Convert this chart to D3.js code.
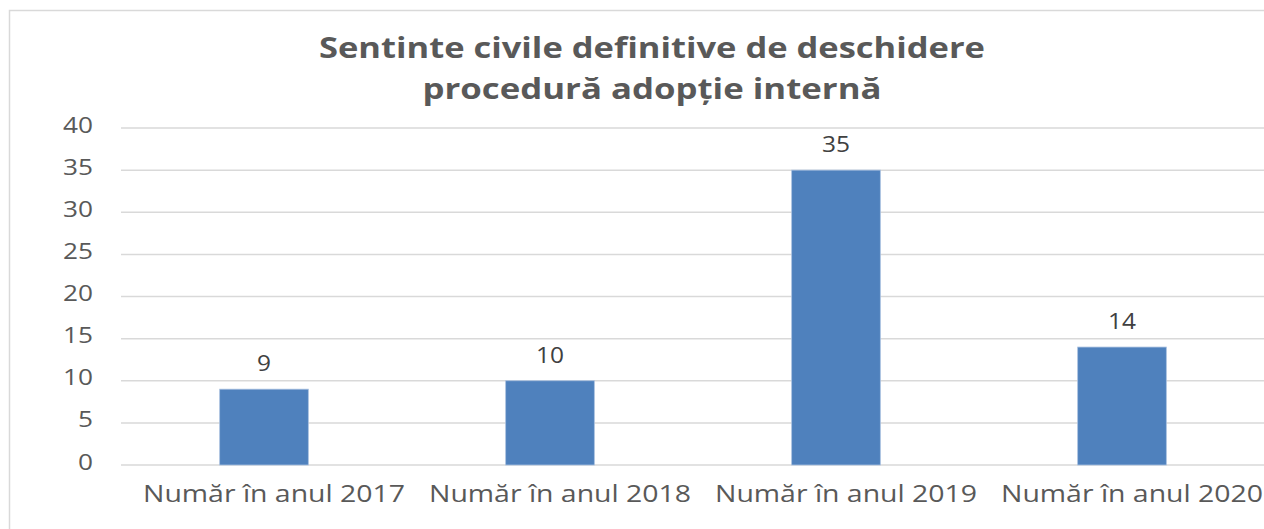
<!DOCTYPE html>
<html>
<head>
<meta charset="utf-8">
<script src="https://cdn.jsdelivr.net/npm/d3@7"></script>
<style>
  body { margin: 0; background: #fff; }
  svg { display: block; }
</style>
</head>
<body>
<div id="chart"></div>
<script>
// Chart Data
const categories = ["Număr în anul 2017", "Număr în anul 2018", "Număr în anul 2019", "Număr în anul 2020"];
const values = [9, 10, 35, 14];
const yTicks = [0, 5, 10, 15, 20, 25, 30, 35, 40];
const titleLines = ["Sentinte civile definitive de deschidere", "procedură adopție internă"];

// Dimensions
let w = 1264, h = 529;
let plotLeft = 121, plotRight = 1265, plotTop = 128, plotBottom = 465;
let font = "'Open Sans', sans-serif";

let svg = d3.select("#chart").append("svg").attr("width", w).attr("height", h);

// Chart Frame
svg.append("rect")
  .attr("x", 9.5).attr("y", 10.5)
  .attr("width", 1290).attr("height", 540)
  .attr("fill", "#fff").attr("stroke", "#d9d9d9").attr("stroke-width", 1.5);

// Scales
let x = d3.scaleBand().domain(categories).range([plotLeft, plotRight]).paddingInner(0.69).paddingOuter(0.345);
let y = d3.scaleLinear().domain([0, 40]).range([plotBottom, plotTop]);

// Gridlines
svg.append("g").selectAll("line").data(yTicks).enter().append("line")
  .attr("x1", plotLeft).attr("x2", plotRight)
  .attr("y1", (d) => y(d)).attr("y2", (d) => y(d))
  .attr("stroke", "#d9d9d9").attr("stroke-width", 1.5);

// Y Axis Labels (stretched wide like the source)
let yAxis = svg.append("g").attr("transform", "translate(" + (plotLeft - 28) + ",-3)")
  .call(d3.axisLeft(y).tickValues(yTicks).tickSize(0).tickPadding(0));
yAxis.select(".domain").remove();
yAxis.selectAll("text")
  .attr("font-family", font).attr("font-size", 22).attr("fill", "#595959")
  .attr("textLength", (d) => String(d).length * 15).attr("lengthAdjust", "spacingAndGlyphs");

// Bars
svg.append("g").selectAll("rect").data(values).enter().append("rect")
  .attr("x", (d, i) => x(categories[i]))
  .attr("y", (d) => y(d))
  .attr("width", x.bandwidth())
  .attr("height", (d) => y(0) - y(d))
  .attr("fill", "#4f81bd")
  .attr("stroke", "#a9c1e0").attr("stroke-width", 0.8);

// Data Labels
svg.append("g").selectAll("text").data(values).enter().append("text")
  .attr("x", (d, i) => x(categories[i]) + x.bandwidth() / 2)
  .attr("y", (d) => y(d) - 18)
  .attr("text-anchor", "middle")
  .attr("font-family", font).attr("font-size", 22).attr("fill", "#404040")
  .attr("textLength", (d) => String(d).length * 14).attr("lengthAdjust", "spacingAndGlyphs")
  .text((d) => d);

// Category Labels
let xAxis = svg.append("g").attr("transform", "translate(10," + (plotBottom + 21) + ")")
  .call(d3.axisBottom(x).tickSize(0).tickPadding(0));
xAxis.select(".domain").remove();
xAxis.selectAll("text")
  .attr("font-family", font).attr("font-size", 23).attr("fill", "#595959")
  .attr("textLength", 262).attr("lengthAdjust", "spacingAndGlyphs");

// Title
const titleWidths = [666, 459];
svg.append("g").selectAll("text").data(titleLines).enter().append("text")
  .attr("x", 652)
  .attr("y", (d, i) => 58 + i * 41)
  .attr("text-anchor", "middle")
  .attr("font-family", font).attr("font-weight", "bold").attr("font-size", 29)
  .attr("fill", "#595959")
  .attr("textLength", (d, i) => titleWidths[i]).attr("lengthAdjust", "spacingAndGlyphs")
  .text((d) => d);
</script>
</body>
</html>
